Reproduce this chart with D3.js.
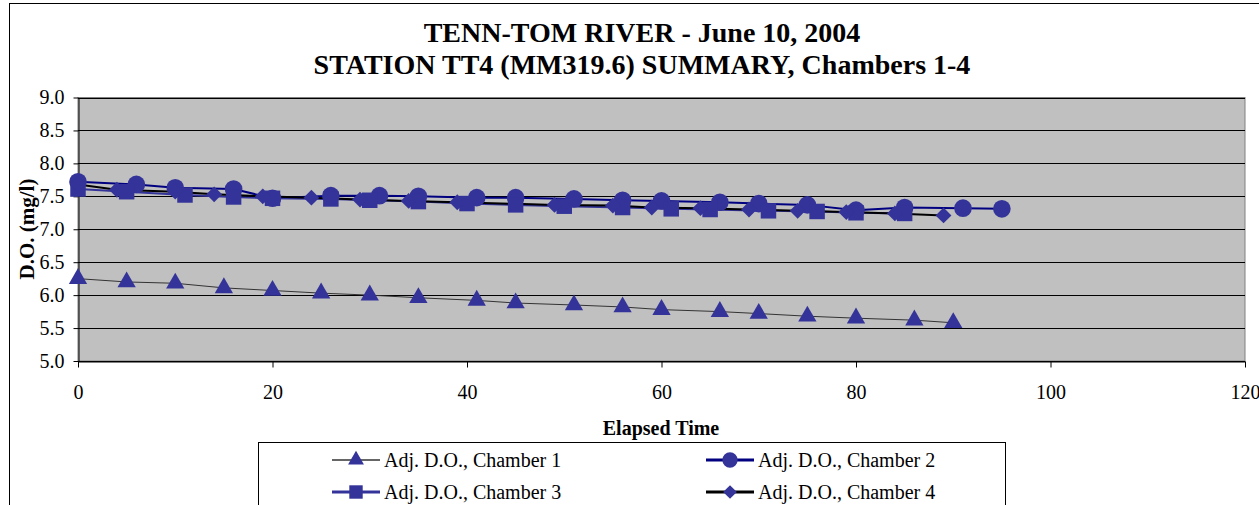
<!DOCTYPE html>
<html>
<head>
<meta charset="utf-8">
<script src="https://cdn.jsdelivr.net/npm/d3@7"></script>
<style>
  body { margin: 0; background: #fff; }
  svg text { font-family: "Liberation Serif", "Times New Roman", "DejaVu Serif", serif; }
</style>
</head>
<body>
<div id="chart"></div>
<script>
// chart values
var titleLines = ["TENN-TOM RIVER - June 10, 2004", "STATION TT4 (MM319.6) SUMMARY, Chambers 1-4"];
var xTicks = [0, 20, 40, 60, 80, 100, 120];
var yTicks = [5.0, 5.5, 6.0, 6.5, 7.0, 7.5, 8.0, 8.5, 9.0];

var ch1_t = [0, 5, 10, 15, 20, 25, 30, 35, 41, 45, 51, 56, 60, 66, 70, 75, 80, 86, 90];
var ch1_do = [6.25, 6.20, 6.18, 6.11, 6.07, 6.03, 6.00, 5.96, 5.92, 5.88, 5.85, 5.82, 5.78, 5.75, 5.72, 5.68, 5.65, 5.62, 5.58];

var ch2_t = [0, 6, 10, 16, 20, 26, 31, 35, 41, 45, 51, 56, 60, 66, 70, 75, 80, 85, 91, 95];
var ch2_do = [7.72, 7.68, 7.63, 7.61, 7.47, 7.51, 7.51, 7.50, 7.48, 7.48, 7.46, 7.44, 7.43, 7.41, 7.39, 7.37, 7.29, 7.33, 7.32, 7.31];

var ch3_t = [0, 5, 11, 16, 20, 26, 30, 35, 40, 45, 50, 56, 61, 65, 71, 76, 80, 85];
var ch3_do = [7.61, 7.57, 7.52, 7.49, 7.47, 7.46, 7.44, 7.42, 7.39, 7.37, 7.35, 7.33, 7.31, 7.30, 7.28, 7.27, 7.25, 7.24];

var ch4_t = [0, 4, 10, 14, 19, 24, 29, 34, 39, 49, 55, 59, 64, 69, 74, 79, 84, 89];
var ch4_do = [7.68, 7.60, 7.57, 7.53, 7.50, 7.48, 7.45, 7.43, 7.41, 7.37, 7.36, 7.33, 7.32, 7.30, 7.28, 7.26, 7.24, 7.21];

var seriesNames = ["Adj. D.O., Chamber 1", "Adj. D.O., Chamber 2", "Adj. D.O., Chamber 3", "Adj. D.O., Chamber 4"];

var W = 1259, H = 505;
var plot = {left: 78, right: 1245, top: 97.5, bottom: 361};
var markerFill = "#333399";
var serif = "Liberation Serif, Times New Roman, serif";

// diamond = square turned 45 degrees, like the spreadsheet marker
var diamond = {
  draw: function (ctx, size) {
    var r = Math.sqrt(size) / 2 * Math.SQRT2;
    ctx.moveTo(0, -r); ctx.lineTo(r, 0); ctx.lineTo(0, r); ctx.lineTo(-r, 0); ctx.closePath();
  }
};

var series = [
  {name: seriesNames[0], t: ch1_t, v: ch1_do, line: "#333333", lw: 1, shape: d3.symbolTriangle, size: 145},
  {name: seriesNames[1], t: ch2_t, v: ch2_do, line: "#000080", lw: 2, shape: d3.symbolCircle, size: 245},
  {name: seriesNames[2], t: ch3_t, v: ch3_do, line: "#333399", lw: 2, shape: d3.symbolSquare, size: 240},
  {name: seriesNames[3], t: ch4_t, v: ch4_do, line: "#000000", lw: 2, shape: diamond, size: 125}
];

var x = d3.scaleLinear().domain([0, 120]).range([plot.left, plot.right]);
var y = d3.scaleLinear().domain([5, 9]).range([plot.bottom, plot.top]);

var svg = d3.select("#chart").append("svg")
  .attr("width", W).attr("height", H)
  .attr("font-family", serif);

// outer chart frame
svg.append("rect")
  .attr("x", 9.5).attr("y", 3.5).attr("width", W).attr("height", H)
  .attr("fill", "#fff").attr("stroke", "#000").attr("stroke-width", 1);

// titles
svg.append("g").selectAll("text")
  .data(titleLines)
  .join("text")
  .attr("x", 642).attr("y", (d, i) => 42 + i * 32)
  .attr("text-anchor", "middle")
  .attr("font-family", serif)
  .attr("font-size", "28px").attr("font-weight", "bold")
  .text(d => d);

// plot area
svg.append("rect")
  .attr("x", plot.left).attr("y", plot.top)
  .attr("width", plot.right - plot.left).attr("height", plot.bottom - plot.top)
  .attr("fill", "#c0c0c0").attr("stroke", "#808080").attr("stroke-width", 1);

// gridlines
svg.append("g").selectAll("line")
  .data(yTicks)
  .join("line")
  .attr("x1", plot.left).attr("x2", plot.right)
  .attr("y1", d => Math.round(y(d)) + 0.5).attr("y2", d => Math.round(y(d)) + 0.5)
  .attr("stroke", "#000").attr("stroke-width", 1);

// axes
var yAxis = g => g
  .attr("transform", `translate(${plot.left + 0.5},0)`)
  .call(d3.axisLeft(y).tickValues(yTicks).tickFormat(d3.format(".1f")).tickSize(5).tickSizeOuter(0))
  .call(g => g.select(".domain").attr("stroke", "#000"))
  .call(g => g.selectAll("text").attr("font-size", "20px").attr("font-family", serif).attr("fill", "#000").attr("x", -14));

var xAxis = g => g
  .attr("transform", `translate(0,${plot.bottom + 0.5})`)
  .call(d3.axisBottom(x).tickValues(xTicks).tickSize(6).tickSizeOuter(0))
  .call(g => g.select(".domain").attr("stroke", "#000"))
  .call(g => g.selectAll("text").attr("font-size", "20px").attr("font-family", serif).attr("fill", "#000").attr("y", 23));

svg.append("g").call(yAxis);
svg.append("g").call(xAxis);

// axis titles
svg.append("text")
  .attr("x", 661).attr("y", 435)
  .attr("text-anchor", "middle")
  .attr("font-family", serif)
  .attr("font-size", "20px").attr("font-weight", "bold")
  .text("Elapsed Time");

svg.append("text")
  .attr("transform", "translate(34,229) rotate(-90)")
  .attr("text-anchor", "middle")
  .attr("font-family", serif)
  .attr("font-size", "21px").attr("font-weight", "bold")
  .text("D.O. (mg/l)");

// lines and markers
var line = d3.line().x(d => x(d[0])).y(d => y(d[1]));

series.forEach(function (s) {
  var pts = s.t.map((t, i) => [t, s.v[i]]);
  svg.append("path")
    .datum(pts)
    .attr("d", line)
    .attr("fill", "none")
    .attr("stroke", s.line)
    .attr("stroke-width", s.lw);
});

series.forEach(function (s) {
  var pts = s.t.map((t, i) => [t, s.v[i]]);
  svg.append("g").selectAll("path")
    .data(pts)
    .join("path")
    .attr("transform", d => `translate(${x(d[0])},${y(d[1])})`)
    .attr("d", d3.symbol().type(s.shape).size(s.size))
    .attr("fill", markerFill);
});

// legend
svg.append("rect")
  .attr("x", 258.5).attr("y", 442.5).attr("width", 747).attr("height", 80)
  .attr("fill", "#fff").attr("stroke", "#000").attr("stroke-width", 1);

var legendPos = [[332, 460], [706, 460], [332, 492], [706, 492]];
var legend = svg.append("g").selectAll("g")
  .data(series)
  .join("g")
  .attr("transform", (d, i) => `translate(${legendPos[i][0]},${legendPos[i][1]})`);

legend.append("line")
  .attr("x1", 0).attr("x2", 48).attr("y1", 0).attr("y2", 0)
  .attr("stroke", (d, i) => i === 0 ? "#666666" : d.line)
  .attr("stroke-width", d => d.lw + 1);

legend.append("path")
  .attr("transform", "translate(24,0)")
  .attr("d", d => d3.symbol().type(d.shape).size(d.size * 0.75)())
  .attr("fill", markerFill);

legend.append("text")
  .attr("x", 52).attr("y", 7)
  .attr("font-family", serif)
  .attr("font-size", "20px")
  .text(d => d.name);
</script>
</body>
</html>
